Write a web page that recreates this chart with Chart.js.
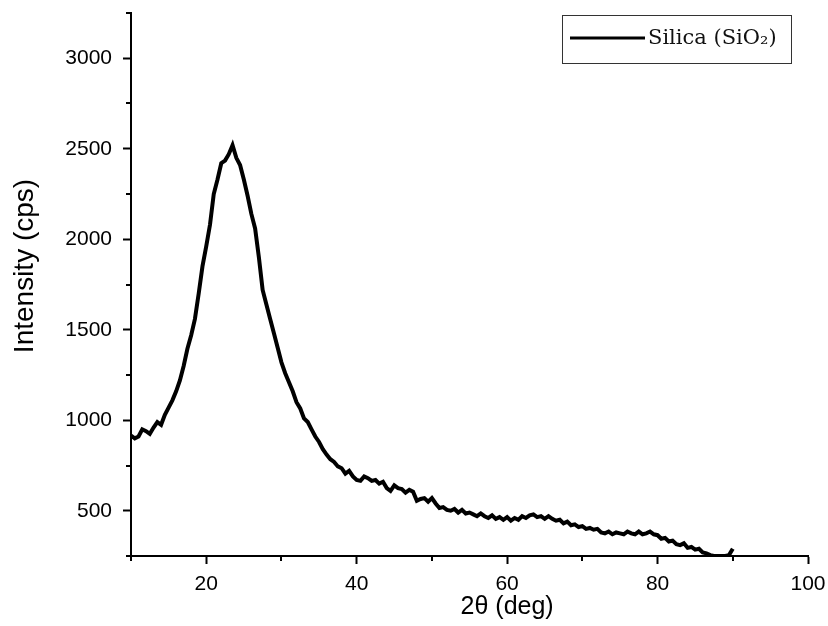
<!DOCTYPE html>
<html>
<head>
<meta charset="utf-8">
<title>XRD Silica</title>
<script src="https://cdn.jsdelivr.net/npm/chart.js@4.4.1/dist/chart.umd.min.js"></script>
<style>
    html, body { margin: 0; padding: 0; background: #fff; }
    #wrap { width: 828px; height: 626px; }
</style>
</head>
<body>
<div id="wrap"><canvas id="xrdChart" width="828" height="626"></canvas></div>
<script>
// 2θ 角度 (deg)
const twoTheta = [
    10, 10.5, 11, 11.5, 12, 12.5, 13, 13.5, 14, 14.5,
    15, 15.5, 16, 16.5, 17, 17.5, 18, 18.5, 19, 19.5,
    20, 20.5, 21, 21.5, 22, 22.5, 23, 23.5, 24, 24.5,
    25, 25.5, 26, 26.5, 27, 27.5, 28, 28.5, 29, 29.5,
    30, 30.5, 31, 31.5, 32, 32.5, 33, 33.5, 34, 34.5,
    35, 35.5, 36, 36.5, 37, 37.5, 38, 38.5, 39, 39.5,
    40, 40.5, 41, 41.5, 42, 42.5, 43, 43.5, 44, 44.5,
    45, 45.5, 46, 46.5, 47, 47.5, 48, 48.5, 49, 49.5,
    50, 50.5, 51, 51.5, 52, 52.5, 53, 53.5, 54, 54.5,
    55, 55.5, 56, 56.5, 57, 57.5, 58, 58.5, 59, 59.5,
    60, 60.5, 61, 61.5, 62, 62.5, 63, 63.5, 64, 64.5,
    65, 65.5, 66, 66.5, 67, 67.5, 68, 68.5, 69, 69.5,
    70, 70.5, 71, 71.5, 72, 72.5, 73, 73.5, 74, 74.5,
    75, 75.5, 76, 76.5, 77, 77.5, 78, 78.5, 79, 79.5,
    80, 80.5, 81, 81.5, 82, 82.5, 83, 83.5, 84, 84.5,
    85, 85.5, 86, 86.5, 87, 87.5, 88, 88.5, 89, 89.5,
    90
];

// 强度 (cps)
const intensity = [
    915, 900, 910, 950, 940, 925, 960, 990, 975, 1030,
    1070, 1110, 1160, 1220, 1300, 1395, 1470, 1560, 1700, 1850,
    1960, 2080, 2250, 2330, 2420, 2435, 2470, 2520, 2450, 2410,
    2330, 2240, 2140, 2060, 1900, 1720, 1640, 1560, 1480, 1400,
    1320, 1260, 1210, 1160, 1100, 1065, 1010, 990, 950, 910,
    880, 840, 810, 785, 770, 745, 735, 705, 720, 690,
    670, 665, 690, 680, 665, 670, 650, 660, 625, 610,
    640, 625, 620, 600, 615, 605, 555, 565, 570, 550,
    570, 540, 515, 520, 505, 500, 510, 490, 505, 485,
    490, 480, 470, 485, 470, 460, 475, 455, 465, 450,
    465, 445, 460, 450, 470, 460, 475, 480, 465, 470,
    455, 470, 455, 445, 450, 430, 440, 420, 425, 410,
    415, 400, 405, 395, 400, 380, 375, 385, 370, 380,
    375, 370, 385, 375, 370, 385, 370, 375, 385, 370,
    365, 345, 350, 330, 335, 315, 310, 320, 295, 300,
    285, 290, 270, 265, 255, 250, 250, 250, 250, 255,
    290
];

// 坐标轴刻度
const xTicksLabeled = [20, 40, 60, 80, 100];
const yTicksLabeled = [500, 1000, 1500, 2000, 2500, 3000];

const seriesLabel = 'Silica (SiO₂)';
const xTitle = '2θ (deg)';
const yTitle = 'Intensity (cps)';

// 次刻度 (较短)
const minorTickPlugin = {
    id: 'minorTicks',
    afterDraw(chart) {
        const ctx = chart.ctx;
        const xs = chart.scales.x;
        const ys = chart.scales.y;
        ctx.save();
        ctx.strokeStyle = '#000';
        ctx.lineWidth = 2;
        xs.ticks.forEach(t => {
            if (xTicksLabeled.includes(t.value)) return;
            const px = Math.round(xs.getPixelForValue(t.value));
            ctx.beginPath();
            ctx.moveTo(px, xs.top);
            ctx.lineTo(px, xs.top + 5);
            ctx.stroke();
        });
        ys.ticks.forEach(t => {
            if (yTicksLabeled.includes(t.value)) return;
            const py = Math.round(ys.getPixelForValue(t.value));
            ctx.beginPath();
            ctx.moveTo(ys.right, py);
            ctx.lineTo(ys.right - 5, py);
            ctx.stroke();
        });
        ctx.restore();
    }
};

// 坐标轴标题
const axisTitlePlugin = {
    id: 'axisTitles',
    afterDraw(chart) {
        const ctx = chart.ctx;
        const xs = chart.scales.x;
        ctx.save();
        ctx.fillStyle = '#000';
        ctx.textAlign = 'center';
        ctx.textBaseline = 'middle';
        ctx.font = '25px "Liberation Sans", Arial, sans-serif';
        ctx.fillText(xTitle, xs.getPixelForValue(60), 607);
        ctx.translate(25, 266);
        ctx.rotate(-Math.PI / 2);
        ctx.font = '28px "Liberation Sans", Arial, sans-serif';
        ctx.fillText(yTitle, 0, 0);
        ctx.restore();
    }
};

// 图例框
const legendBoxPlugin = {
    id: 'legendBox',
    afterDraw(chart) {
        const ctx = chart.ctx;
        const ds = chart.data.datasets[0];
        ctx.save();
        ctx.strokeStyle = '#333';
        ctx.lineWidth = 1;
        ctx.strokeRect(562.5, 15.5, 229, 48);
        ctx.strokeStyle = ds.borderColor;
        ctx.lineWidth = 3;
        ctx.beginPath();
        ctx.moveTo(570, 38);
        ctx.lineTo(645, 38);
        ctx.stroke();
        ctx.fillStyle = '#111';
        ctx.font = '21px "DejaVu Serif", "Liberation Serif", serif';
        ctx.textBaseline = 'middle';
        ctx.fillText(ds.label, 648, 39);
        ctx.restore();
    }
};

document.addEventListener('DOMContentLoaded', function() {
    const ctx = document.getElementById('xrdChart').getContext('2d');
    new Chart(ctx, {
        type: 'line',
        data: {
            datasets: [{
                label: seriesLabel,
                data: twoTheta.map((t, i) => ({ x: t, y: intensity[i] })),
                borderColor: '#000',
                borderWidth: 4,
                pointRadius: 0,
                tension: 0,
                fill: false
            }]
        },
        options: {
            responsive: false,
            animation: false,
            layout: {
                padding: { top: 13, right: 20, left: 0, bottom: 0 }
            },
            plugins: {
                legend: { display: false },
                tooltip: { enabled: false }
            },
            scales: {
                x: {
                    type: 'linear',
                    min: 10,
                    max: 100,
                    afterFit: s => { s.height = 70; s.paddingLeft = 0; s.paddingRight = 0; },
                    border: { color: '#000', width: 2 },
                    grid: {
                        drawOnChartArea: false,
                        tickLength: 8,
                        tickWidth: 2,
                        tickColor: c => xTicksLabeled.includes(c.tick.value) ? '#000' : 'rgba(0,0,0,0)'
                    },
                    ticks: {
                        stepSize: 10,
                        autoSkip: false,
                        maxRotation: 0,
                        padding: 8,
                        color: '#000',
                        font: { family: '"Liberation Sans", Arial, sans-serif', size: 21 },
                        callback: v => xTicksLabeled.includes(v) ? String(v) : ''
                    }
                },
                y: {
                    type: 'linear',
                    min: 250,
                    max: 3250,
                    afterFit: s => { s.width = 131; s.paddingTop = 0; s.paddingBottom = 0; },
                    border: { color: '#000', width: 2 },
                    grid: {
                        drawOnChartArea: false,
                        tickLength: 8,
                        tickWidth: 2,
                        tickColor: c => yTicksLabeled.includes(c.tick.value) ? '#000' : 'rgba(0,0,0,0)'
                    },
                    ticks: {
                        stepSize: 250,
                        autoSkip: false,
                        padding: 11,
                        color: '#000',
                        font: { family: '"Liberation Sans", Arial, sans-serif', size: 21 },
                        callback: v => yTicksLabeled.includes(v) ? String(v) : ''
                    }
                }
            }
        },
        plugins: [minorTickPlugin, axisTitlePlugin, legendBoxPlugin]
    });
});
</script>
</body>
</html>
